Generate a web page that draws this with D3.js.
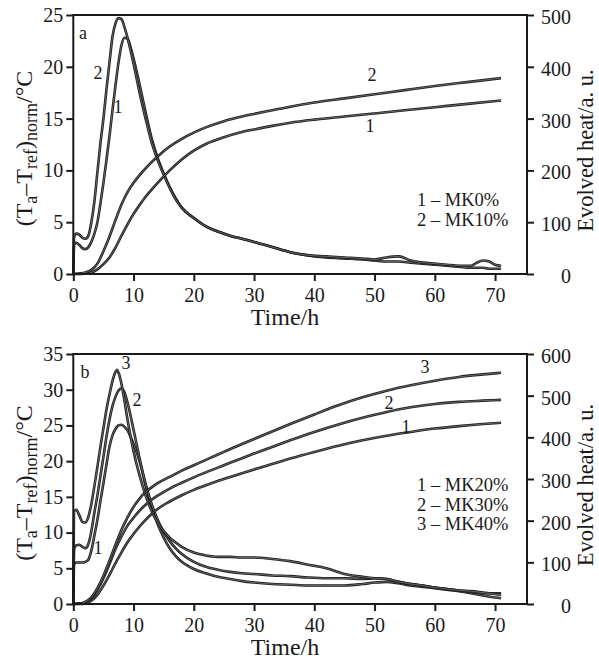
<!DOCTYPE html>
<html><head><meta charset="utf-8">
<script src="https://cdn.jsdelivr.net/npm/d3@7/dist/d3.min.js"></script>
<style>
html,body{margin:0;padding:0;background:#fff;}
svg{display:block;font-family:"Liberation Serif","Times New Roman",serif;}
</style></head>
<body><svg id="c" width="599" height="661"></svg>
<script>
// ---------- DATA ----------
const xTicks = [0,10,20,30,40,50,60,70];

// Panel a : temperature (left axis)
const tRateA = [0,0.15,0.5,1,1.5,2,2.5,3,3.5,4,4.5,5,5.5,6,6.5,7,7.5,8,8.5,9,9.5,10,10.5,11,12,13,14,15,16,17,18,20,22,24,26,28,30,33,36,39,42,45,48,50,52,54,56,58,60,62,64,66,67,68,69,70,71];
const rateA1 = [0,2.9,3.0,2.8,2.5,2.4,2.6,3.1,3.9,5.0,6.8,8.8,11.0,13.3,15.8,18.2,20.4,22.1,22.8,22.7,21.9,20.8,19.6,18.3,15.6,13.1,11.2,9.7,8.4,7.3,6.4,5.4,4.6,4.1,3.7,3.4,3.1,2.6,2.1,1.8,1.6,1.5,1.4,1.3,1.2,1.2,1.1,1.0,0.9,0.8,0.7,0.6,0.6,0.6,0.5,0.5,0.5];
const rateA2 = [0,3.6,3.9,3.8,3.5,3.4,3.7,5.0,7.0,9.8,12.6,15.0,17.8,20.4,22.9,24.2,24.7,24.6,23.8,22.8,21.6,20.3,18.9,17.5,15.0,12.7,11.0,9.6,8.3,7.2,6.4,5.4,4.6,4.1,3.7,3.4,3.1,2.6,2.1,1.8,1.7,1.6,1.5,1.4,1.6,1.7,1.3,1.1,1.0,0.9,0.8,0.8,1.1,1.3,1.2,0.9,0.8];
// Panel a : evolved heat (right axis)
const tHeatA = [0,1,2,3,4,5,6,7,8,9,10,11,12,13,14,16,18,20,22,25,28,30,33,36,40,45,50,55,60,65,71];
const heatA1 = [0,0,1,3,9,19,32,51,74,96,116,133,149,163,176,200,221,238,251,264,274,279,286,292,298,304,310,316,322,328,335];
const heatA2 = [0,1,3,8,20,44,72,104,134,158,176,191,204,216,227,246,261,273,283,295,304,309,316,323,331,339,347,355,363,370,378];

// Panel b : temperature (left axis)
const tRateB = [0,0.15,0.5,1,1.5,2,2.5,3,3.5,4,4.5,5,5.5,6,6.5,7,7.25,7.5,8,8.5,9,9.5,10,10.5,11,12,13,14,15,16,17,18,20,22,24,26,28,30,33,36,39,42,45,48,50,52,54,56,58,60,62,64,66,68,70,71];
const rateB1 = [0,5.6,5.8,5.8,5.8,5.9,6.2,7.5,9.6,11.8,14.4,16.9,19.5,22.0,23.6,24.5,24.8,25.0,25.1,24.8,24.3,23.4,22.4,21.3,20.0,16.6,13.6,11.2,9.3,7.8,6.7,5.9,4.9,4.3,3.8,3.5,3.2,3.0,2.8,2.7,2.6,2.6,2.6,2.8,3.0,3.1,2.9,2.6,2.4,2.2,2.0,1.8,1.5,1.2,0.9,0.8];
const rateB2 = [0,7.8,8.2,8.3,8.0,7.8,8.4,10.2,12.8,15.2,17.9,20.6,23.4,25.8,27.7,29.0,29.5,29.9,30.2,29.6,28.2,26.4,24.4,22.4,20.4,16.8,14.0,11.8,10.1,8.8,7.8,7.0,5.9,5.2,4.8,4.5,4.3,4.2,4.0,3.9,3.7,3.6,3.6,3.5,3.6,3.5,3.1,2.8,2.6,2.3,2.1,1.9,1.7,1.5,1.5,1.5];
const rateB3 = [0,13.0,13.2,12.4,11.5,11.4,12.2,14.0,16.5,19.2,22.0,24.6,27.2,29.3,31.2,32.5,32.8,32.4,30.8,28.4,25.8,23.5,21.4,19.6,18.0,15.2,13.0,11.4,10.2,9.3,8.6,8.0,7.2,6.8,6.6,6.6,6.5,6.5,6.3,6.0,5.5,5.0,4.2,3.8,3.6,3.5,3.1,2.8,2.6,2.3,2.1,1.9,1.8,1.6,1.4,1.3];
// Panel b : evolved heat (right axis)
const tHeatB = [0,1,2,3,4,5,6,7,8,9,10,11,12,13,14,16,18,20,22,25,28,30,33,36,40,44,48,52,56,60,64,68,71];
const heatB1 = [0,0,2,8,22,44,70,98,124,148,168,186,202,216,228,246,261,274,285,300,314,323,336,349,365,380,393,404,413,421,427,432,435];
const heatB2 = [0,1,4,14,34,62,96,132,162,188,207,224,238,250,260,277,291,304,316,333,350,361,377,393,413,431,447,461,472,480,485,488,490];
const heatB3 = [0,1,5,16,38,68,104,142,178,208,233,253,269,280,290,305,320,333,346,365,384,396,414,432,455,477,496,512,525,536,545,551,555];

const leftTicksA = [0,5,10,15,20,25];
const rightTicksA = [0,100,200,300,400,500];
const leftTicksB = [0,5,10,15,20,25,30,35];
const rightTicksB = [0,100,200,300,400,500,600];

const legendA = ["1 – MK0%","2 – MK10%"];
const legendB = ["1 – MK20%","2 – MK30%","3 – MK40%"];

// ---------- DRAWING ----------
const svg = d3.select("#c");
const X0 = 73.3, X1 = 527;
const x = d3.scaleLinear().domain([0,75.3]).range([X0,X1]);
const ink = "#1a1a1a";

function zipT(t, v){ return t.map((d,i)=>[d,v[i]]); }

function panel(cfg){
  const yL = d3.scaleLinear().domain([0,cfg.lMax]).range([cfg.bottom,cfg.top]);
  const yR = d3.scaleLinear().domain([0,cfg.rMax]).range([cfg.bottom,cfg.top]);
  const g = svg.append("g");

  // curves
  const lineL = d3.line().x(d=>x(d[0])).y(d=>yL(d[1])).curve(d3.curveMonotoneX);
  const lineR = d3.line().x(d=>x(d[0])).y(d=>yR(d[1])).curve(d3.curveMonotoneX);
  const paths = [];
  cfg.rates.forEach(r=>paths.push(lineL(zipT(cfg.tRate,r))));
  cfg.heats.forEach(h=>paths.push(lineR(zipT(cfg.tHeat,h))));
  paths.forEach(p=>{
    g.append("path").attr("d",p).attr("fill","none").attr("stroke",ink).attr("stroke-width",2.6).attr("stroke-linejoin","round");
    g.append("path").attr("d",p).attr("fill","none").attr("stroke","#8a8a8a").attr("stroke-width",0.7);
  });

  // axes
  const ax = g.append("g").attr("transform",`translate(0,${cfg.bottom})`)
    .call(d3.axisBottom(x).tickValues(xTicks).tickSize(7).tickSizeOuter(0));
  ax.selectAll("text").attr("y",null).attr("dy",null).attr("y",28).attr("font-size",20).attr("fill",ink).attr("font-family","Liberation Serif");
  const al = g.append("g").attr("transform",`translate(${X0},0)`)
    .call(d3.axisLeft(yL).tickValues(cfg.lTicks).tickSize(7).tickSizeOuter(0).tickPadding(3));
  al.selectAll("text").attr("font-size",20).attr("fill",ink).attr("font-family","Liberation Serif");
  const ar = g.append("g").attr("transform",`translate(${X1},0)`)
    .call(d3.axisRight(yR).tickValues(cfg.rTicks).tickSize(7).tickSizeOuter(0));
  ar.selectAll("text").attr("x",44).attr("text-anchor","end").attr("dy","0.42em").attr("font-size",20).attr("fill",ink).attr("font-family","Liberation Serif");
  [ax,al,ar].forEach(a=>{ a.select(".domain").remove(); a.selectAll("line").attr("stroke",ink).attr("stroke-width",2); });

  g.append("rect").attr("x",X0).attr("y",cfg.top).attr("width",X1-X0).attr("height",cfg.bottom-cfg.top)
    .attr("fill","none").attr("stroke",ink).attr("stroke-width",2);

  // axis titles
  g.append("text").attr("x",285).attr("y",cfg.bottom+51).attr("text-anchor","middle")
    .attr("font-size",24).attr("fill",ink).text("Time/h");
  const mid = (cfg.top+cfg.bottom)/2 + 4;
  const lt = g.append("text").attr("transform",`translate(32,${mid}) rotate(-90)`).attr("text-anchor","middle")
    .attr("font-size",24).attr("fill",ink);
  lt.append("tspan").text("(T");
  lt.append("tspan").attr("font-size",18).attr("dy",5).text("a");
  lt.append("tspan").attr("dy",-5).text("–T");
  lt.append("tspan").attr("font-size",18).attr("dy",5).text("ref");
  lt.append("tspan").attr("dy",-5).text(")");
  lt.append("tspan").attr("font-size",18).attr("dy",5).text("norm");
  lt.append("tspan").attr("dy",-5).text("/°C");
  g.append("text").attr("transform",`translate(593,${mid+2}) rotate(-90)`).attr("text-anchor","middle")
    .attr("font-size",22.5).attr("fill",ink).text("Evolved heat/a. u.");

  // panel letter
  g.append("text").attr("x",cfg.letter[0]).attr("y",cfg.letter[1]).attr("text-anchor","middle")
    .attr("dominant-baseline","central").attr("font-size",18).attr("fill",ink).text(cfg.letter[2]);
  // curve labels
  cfg.labels.forEach(l=>{
    g.append("text").attr("x",l[0]).attr("y",l[1]).attr("text-anchor","middle").attr("dominant-baseline","central")
      .attr("font-size",18).attr("fill",ink).text(l[2]);
  });
  // legend
  cfg.legend.forEach((s,i)=>{
    g.append("text").attr("x",417).attr("y",cfg.legendY + i*cfg.legendDy).attr("font-size",18.5).attr("fill",ink).text(s);
  });
}

panel({top:15,bottom:274,lMax:25,rMax:500,lTicks:leftTicksA,rTicks:rightTicksA,
  tRate:tRateA,rates:[rateA1,rateA2],tHeat:tHeatA,heats:[heatA1,heatA2],
  letter:[83,33,"a"],
  labels:[[98,73,"2"],[118,107,"1"],[372,75,"2"],[370,126,"1"]],
  legend:legendA,legendY:206,legendDy:20});

panel({top:354,bottom:604,lMax:35,rMax:600,lTicks:leftTicksB,rTicks:rightTicksB,
  tRate:tRateB,rates:[rateB1,rateB2,rateB3],tHeat:tHeatB,heats:[heatB1,heatB2,heatB3],
  letter:[85,372,"b"],
  labels:[[126,363,"3"],[137,400,"2"],[98,548,"1"],[425,367,"3"],[389,403,"2"],[406,427,"1"]],
  legend:legendB,legendY:491,legendDy:19.5});
</script></body></html>
